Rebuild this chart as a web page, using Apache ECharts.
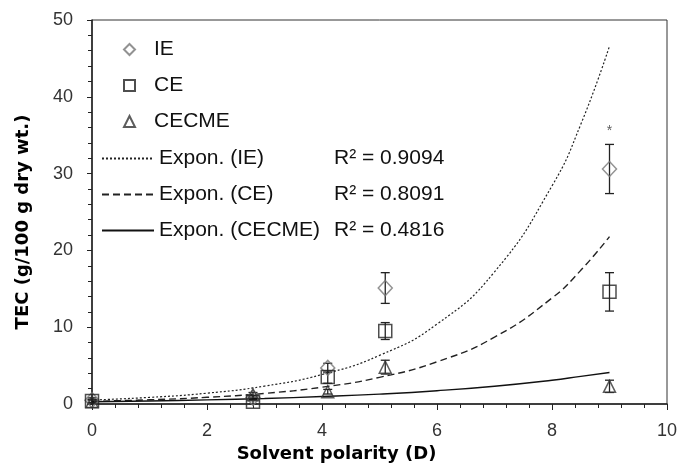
<!DOCTYPE html>
<html><head><meta charset="utf-8">
<script src="https://cdn.jsdelivr.net/npm/echarts@6/dist/echarts.min.js"></script>
<style>html,body{margin:0;padding:0;background:#fff}#c{width:683px;height:470px}</style>
</head><body><div id="c"></div>
<script>
// Measured points
const polarity = [0, 2.8, 4.1, 5.1, 9];
const ieVals = [0.5, 0.8, 4.7, 15.1, 30.6];
const ieErr = [0.3, 0.3, 0.6, 2.0, 3.2];
const ceVals = [0.4, 0.3, 3.5, 9.5, 14.6];
const ceErr = [0.2, 0.3, 0.8, 1.1, 2.5];
const cecmeVals = [0.3, 1.2, 1.6, 4.8, 2.3];
const cecmeErr = [0.2, 0.3, 0.3, 0.9, 0.8];
// Trend lines
const trendX = [0, 1, 2, 3, 4, 5, 6, 7, 8, 8.5, 9];
const ieTrend = [0.52, 0.86, 1.41, 2.33, 3.84, 6.33, 10.4, 17.2, 28.4, 36.4, 46.6];
const ceTrend = [0.35, 0.55, 0.87, 1.38, 2.19, 3.47, 5.5, 8.7, 13.8, 17.4, 21.8];
const cecmeTrend = [0.30, 0.40, 0.54, 0.72, 0.97, 1.29, 1.73, 2.32, 3.1, 3.6, 4.1];
const r2 = ['0.9094', '0.8091', '0.4816'];
const sigMark = [[9, 35.5]];

const pts = (v) => polarity.map((x, i) => [x, v[i]]);
const errData = (v, e) => polarity.map((x, i) => [x, v[i] - e[i], v[i] + e[i]]);
const tr = (v) => trendX.map((x, i) => [x, v[i]]);

function errSeries(v, e) {
  return {
    type: 'custom', silent: true, z: 1,
    data: errData(v, e),
    encode: {x: 0, y: [1, 2]},
    renderItem: function (params, api) {
      const lo = api.coord([api.value(0), api.value(1)]);
      const hi = api.coord([api.value(0), api.value(2)]);
      const w = 4.5;
      const st = {stroke: '#222', lineWidth: 1.3, fill: null};
      return {type: 'group', children: [
        {type: 'line', shape: {x1: lo[0], y1: lo[1], x2: hi[0], y2: hi[1]}, style: st},
        {type: 'line', shape: {x1: lo[0]-w, y1: lo[1], x2: lo[0]+w, y2: lo[1]}, style: st},
        {type: 'line', shape: {x1: hi[0]-w, y1: hi[1], x2: hi[0]+w, y2: hi[1]}, style: st}
      ]};
    }
  };
}

const font = 'Liberation Sans, Arial, sans-serif';
const boldFont = 'DejaVu Sans, sans-serif';
const none = 'rgba(0,0,0,0)';
const chart = echarts.init(document.getElementById('c'), null, {renderer: 'canvas'});
chart.setOption({
  animation: false,
  grid: {left: 92, right: 16, top: 20, bottom: 66, show: true, borderColor: '#333', borderWidth: 1},
  legend: [{
    orient: 'vertical', left: 123, top: 39, padding: 0, itemGap: 15, itemWidth: 11, itemHeight: 11,
    data: ['IE', 'CE', 'CECME'],
    textStyle: {fontFamily: font, fontSize: 21, color: '#111', padding: [0, 0, 0, 14]}
  }, {
    orient: 'vertical', left: 101, top: 148, padding: 0, itemGap: 15, itemWidth: 52, itemHeight: 12,
    data: ['Expon. (IE)', 'Expon. (CE)', 'Expon. (CECME)'],
    itemStyle: {color: none, borderColor: none, borderWidth: 0},
    textStyle: {fontFamily: font, fontSize: 21, color: '#111',
      rich: {a: {fontFamily: font, fontSize: 21, color: '#111', width: 175}, b: {fontFamily: font, fontSize: 21, color: '#111'}}},
    formatter: function (name) {
      const idx = ['Expon. (IE)', 'Expon. (CE)', 'Expon. (CECME)'].indexOf(name);
      return '{a|' + name + '}{b|R² = ' + r2[idx] + '}';
    }
  }],
  xAxis: {
    type: 'value', min: 0, max: 10, interval: 2,
    name: 'Solvent polarity (D)', nameLocation: 'middle', nameGap: 41,
    nameTextStyle: {fontFamily: boldFont, fontSize: 18, fontWeight: 'bold', color: '#000', padding: [0, 86, 0, 0]},
    axisLine: {onZero: false, lineStyle: {color: '#222', width: 1.5}},
    axisTick: {length: 6, lineStyle: {color: '#222'}},
    minorTick: {show: true, splitNumber: 5, length: 4, lineStyle: {color: '#222'}},
    axisLabel: {fontFamily: font, fontSize: 18, color: '#333', margin: 18},
    splitLine: {show: false}
  },
  yAxis: {
    type: 'value', min: 0, max: 50, interval: 10,
    name: 'TEC (g/100 g dry wt.)', nameLocation: 'middle', nameGap: 60, nameRotate: 90,
    nameTextStyle: {fontFamily: boldFont, fontSize: 18, fontWeight: 'bold', color: '#000', padding: [0, 20, 0, 0]},
    axisLine: {lineStyle: {color: '#222', width: 1.5}},
    axisTick: {length: 5, lineStyle: {color: '#222'}},
    minorTick: {show: true, splitNumber: 5, length: 4, lineStyle: {color: '#222'}},
    axisLabel: {fontFamily: font, fontSize: 18, color: '#333', margin: 19},
    splitLine: {show: false}
  },
  series: [
    errSeries(ieVals, ieErr), errSeries(ceVals, ceErr), errSeries(cecmeVals, cecmeErr),
    {name: 'Expon. (IE)', type: 'line', data: tr(ieTrend), smooth: true, symbol: 'none', z: 2,
      lineStyle: {color: '#222', width: 1.2, type: [2, 2]}, itemStyle: {color: '#222'}},
    {name: 'Expon. (CE)', type: 'line', data: tr(ceTrend), smooth: true, symbol: 'none', z: 2,
      lineStyle: {color: '#222', width: 1.4, type: [7, 4]}, itemStyle: {color: '#222'}},
    {name: 'Expon. (CECME)', type: 'line', data: tr(cecmeTrend), smooth: true, symbol: 'none', z: 2,
      lineStyle: {color: '#111', width: 1.4}, itemStyle: {color: '#111'}},
    {name: 'IE', type: 'scatter', data: pts(ieVals), symbol: 'diamond', symbolSize: [14, 15], z: 5,
      itemStyle: {color: none, borderColor: '#777', borderWidth: 1.5}},
    {name: 'CE', type: 'scatter', data: pts(ceVals), symbol: 'rect', symbolSize: 13, z: 5,
      itemStyle: {color: none, borderColor: '#222', borderWidth: 1.5}},
    {name: 'CECME', type: 'scatter', data: pts(cecmeVals), symbol: 'triangle', symbolSize: 12, z: 5,
      itemStyle: {color: none, borderColor: '#333', borderWidth: 1.5}},
    {type: 'scatter', data: sigMark, symbolSize: 1, itemStyle: {color: none}, silent: true,
      label: {show: true, position: 'inside', formatter: '*', fontFamily: font, fontSize: 14, color: '#333'}}
  ]
});
</script></body></html>
